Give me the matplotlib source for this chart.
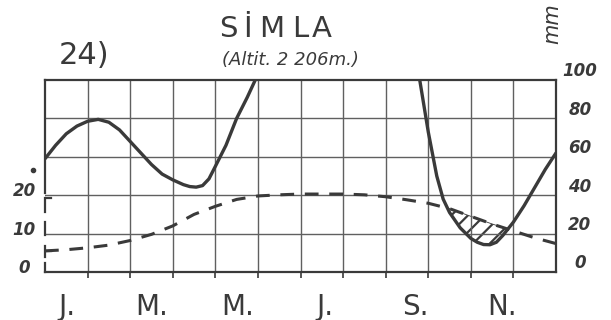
import numpy as np
import matplotlib.pyplot as plt

# yağış eğrisi (mm), ay ekseni üzerinde okunan noktalar (0 = Ocak başı, 12 = Aralık sonu)
yagis_x = [0, 0.25, 0.5, 0.75, 1.0, 1.25, 1.5, 1.75, 2.0, 2.25, 2.5, 2.75, 3.0, 3.25,
           3.4, 3.55, 3.7, 3.85, 4.0, 4.25, 4.5, 4.75, 5.0, 5.5, 6.5, 7.5, 8.5, 8.8,
           9.0, 9.2, 9.35, 9.5, 9.75, 10.0, 10.15, 10.3, 10.45, 10.6, 10.75, 11.0,
           11.25, 11.5, 11.75, 12.0]
yagis_mm = [59, 66, 72, 76, 78.5, 79.5, 78, 74, 68, 62, 56, 51, 48, 45.5,
            44.5, 44.2, 45, 48.5, 55, 66, 80, 91, 103, 175, 420, 410, 165, 100,
            73, 50, 38, 31, 23, 17.5, 15.5, 14.3, 14.2, 15.5, 19, 26,
            34.5, 44, 53.5, 62]

# sıcaklık eğrisi (°C)
sicaklik_x = [0, 0.5, 1, 1.5, 2, 2.5, 3, 3.5, 4, 4.5, 5, 5.5, 6, 6.5, 7, 7.5, 8,
              8.5, 9, 9.5, 10, 10.5, 11, 11.5, 12]
sicaklik_c = [5.5, 5.8, 6.3, 7.0, 8.2, 9.8, 12.0, 15.0, 17.1, 18.9, 19.8, 20.1, 20.3,
              20.3, 20.3, 20.1, 19.6, 18.8, 17.9, 16.5, 14.5, 12.5, 10.7, 8.9, 7.4]

aylar = ["J.", "M.", "M.", "J.", "S.", "N."]
mm_etiket = [0, 20, 40, 60, 80, 100]
c_etiket = [0, 10, 20]

ink = "#3a3a3a"
W, H = 611, 320

plt.rcParams["hatch.linewidth"] = 1.6
fig = plt.figure(figsize=(W / 100, H / 100), dpi=100)
fig.patch.set_facecolor("white")
ax = fig.add_axes([45 / W, (H - 272) / H, 511 / W, 192 / H])
ax.set_xlim(0, 12)
ax.set_ylim(0, 100)

# ızgara
ax.set_xticks(range(1, 12))
ax.set_yticks([20, 40, 60, 80])
ax.grid(True, color="#606060", lw=1.0)
ax.tick_params(axis="x", direction="out", length=4, width=1.2, color=ink,
               labelbottom=False)
ax.tick_params(axis="y", length=0, labelleft=False)

for s in ["top", "right", "bottom"]:
    ax.spines[s].set_color(ink)
    ax.spines[s].set_linewidth(1.6)
ax.spines["left"].set_visible(False)

# sol kenar (kesik çizgili)
sol = [(100, 41), (38.5, 31), (26, 19.5), (13.5, 7.8), (4.7, 0)]
for a, b in sol:
    ax.plot([0, 0], [a, b], color=ink, lw=1.6, clip_on=False)
ax.plot([0, 0.13], [38.5, 38.5], color=ink, lw=1.6)
ax.plot([0, 0.13], [11, 11], color=ink, lw=1.6)
ax.plot([-0.28], [53], "o", ms=3, color=ink, clip_on=False)

# kurak dönem taraması
px = np.array(yagis_x)
temp_mm = 2 * np.array(sicaklik_c)
t_on_p = np.interp(px, sicaklik_x, temp_mm)
ax.fill_between(px, yagis_mm, t_on_p, where=t_on_p > np.array(yagis_mm),
                interpolate=True, facecolor="none", edgecolor=ink, hatch="//",
                linewidth=0.6)

# eğriler
ax.plot(yagis_x, yagis_mm, color=ink, lw=2.4, solid_joinstyle="round",
        solid_capstyle="round")
ax.plot(sicaklik_x, temp_mm, color=ink, lw=2.2, dashes=(4.5, 3.5))

# eksen yazıları
for v in mm_etiket:
    ax.text(12.56, v + 4.5, str(v), ha="center", va="center", fontsize=12,
            fontstyle="italic", fontweight="bold", color=ink, clip_on=False)
for v in c_etiket:
    ax.text(-0.49, 2 * v + 2, str(v), ha="center", va="center", fontsize=12,
            fontstyle="italic", fontweight="bold", color=ink, clip_on=False)

ay_x = [0.52, 2.51, 4.53, 6.58, 8.71, 10.73]
for x, a in zip(ay_x, aylar):
    fig.text((45 + x * 42.58) / W, 1 - 315 / H, a, ha="center", va="baseline",
             fontsize=20, color=ink)

# başlık
for ch, x in zip("SİMLA", [228, 247.5, 272, 300, 321.5]):
    fig.text(x / W, 1 - 37 / H, ch, ha="center", va="baseline", fontsize=21,
             color=ink)
fig.text(290 / W, 1 - 60 / H, "(Altit. 2 206m.)", ha="center", va="center",
         fontsize=13, fontstyle="italic", color=ink)
fig.text(84 / W, 1 - 55 / H, "24)", ha="center", va="center", fontsize=22,
         color=ink)
fig.text(552 / W, 1 - 24 / H, "mm", ha="center", va="center", fontsize=15,
         fontstyle="italic", rotation=90, color=ink)

fig.savefig("out.png", dpi=100, facecolor="white")
